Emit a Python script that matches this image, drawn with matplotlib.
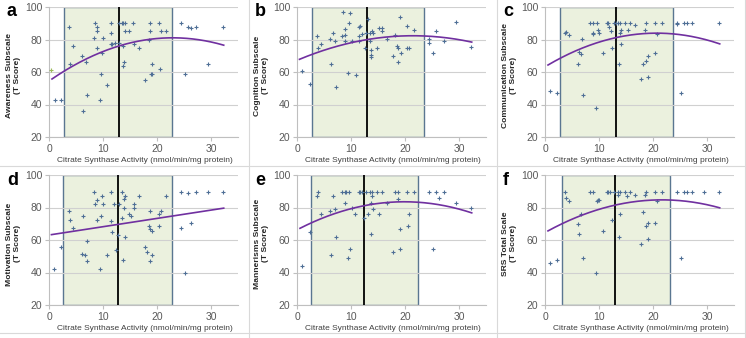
import numpy as np
import matplotlib
matplotlib.use("Agg")
import matplotlib.pyplot as plt
from matplotlib.patches import Rectangle
from matplotlib.lines import Line2D

# ---------------- data ----------------
letters = ["a", "b", "c", "d", "e", "f"]
ylabels = ["Awareness Subscale\n(T Score)", "Cognition Subscale\n(T Score)",
           "Communication Subscale\n(T Score)", "Motivation Subscale\n(T Score)",
           "Mannerisms Subscale\n(T Score)", "SRS Total Scale\n(T Score)"]
xlabel = "Citrate Synthase Activity (nmol/min/mg protein)"
xticks = [0, 10, 20, 30]
yticks = [20, 40, 60, 80, 100]

a_x = [1, 2.2, 3.6, 3.8, 4.4, 6.1, 6.3, 6.8, 7.0, 8.5, 8.3, 8.8, 8.8, 8.8, 9.3, 9.6, 9.8, 10.0,
       10.7, 11.4, 11.4, 11.4, 11.7, 12.1, 12.9, 13.0, 13.4, 13.6, 14.0, 13.6, 13.6, 13.9, 14.0,
       14.8, 15.5, 15.7, 16.7, 17.8, 18.4, 18.6, 18.6, 18.8, 19.1, 19.1, 20.3, 20.5, 20.7, 21.7,
       24.3, 25.2, 25.6, 26.2, 27.2, 29.4, 32.2]
a_y = [43, 43, 88, 65, 76, 70, 36, 66, 46, 90, 81, 88, 85, 75, 43, 59, 72, 81,
       52, 90, 84, 77, 77, 78, 90, 78, 90, 90, 90, 76, 64, 66, 85,
       85, 90, 77, 75, 55, 80, 85, 90, 59, 59, 65, 90, 62, 85, 85,
       90, 59, 88, 87, 88, 65, 88]
a_extra_x = [0.25]
a_extra_y = [61]

b_x = [0.9, 2.3, 3.6, 3.9, 4.4, 6.1, 6.3, 6.7, 7.0, 7.1, 8.5, 8.3, 8.9, 8.9, 8.8, 9.3, 9.6, 9.8,
       10.1, 10.8, 11.4, 11.5, 11.5, 11.6, 12.0, 12.5, 12.8, 13.1, 13.4, 13.5, 13.6, 13.6, 13.7,
       13.9, 14.0, 14.7, 15.2, 15.6, 15.6, 16.7, 17.8, 18.1, 18.5, 18.6, 18.6, 19.0, 19.2, 20.4,
       20.4, 20.7, 21.7, 24.3, 24.3, 25.1, 25.6, 27.2, 29.4, 32.2]
b_y = [60.8, 52.6, 82.3, 74.6, 77, 80.4, 64.7, 84, 79, 50.7, 96.7, 81.9, 86.4, 82.5, 79, 59.6, 90, 96.3,
       79, 58.1, 79, 81.9, 87.6, 88.5, 83.5, 74.6, 84.3, 92.8, 83.7, 79.2, 70.5, 69, 73.6,
       85, 84, 74.6, 87.2, 87.2, 85, 80.6, 70, 83, 76, 75, 66.4, 93.6, 71.5, 88.5,
       74.6, 74.6, 86, 80.2, 78.1, 71.5, 85, 79, 90.5, 75.3]

c_x = [0.9, 2.2, 3.6, 3.8, 4.4, 6.1, 6.3, 6.7, 6.8, 7.0, 8.3, 8.8, 8.8, 8.8, 9.3, 9.6, 9.8, 10.0,
       10.7, 11.4, 11.7, 11.8, 12.1, 12.3, 12.8, 13.1, 13.4, 13.8, 13.6, 13.8, 14.0, 14.0, 14.7,
       15.3, 15.6, 16.6, 17.8, 18.1, 18.4, 18.6, 18.6, 19.0, 19.1, 20.4, 20.4, 20.7, 21.7,
       24.3, 24.4, 25.1, 25.6, 26.2, 27.2, 32.2]
c_y = [48.5, 46.8, 84, 84.5, 83, 64.7, 72.2, 70.9, 80.2, 46, 90, 90, 84, 83.3, 38.1, 90, 86, 84,
       72, 90, 90, 88, 85, 75, 90, 90, 90, 90, 64.7, 84, 77, 86, 90,
       86, 90, 89, 55.9, 64.7, 86, 90, 66.8, 57, 70, 90, 72, 83.5, 90,
       90, 89.5, 46.8, 90, 90, 90, 90]

d_x = [0.9, 2.2, 3.6, 3.8, 4.4, 6.1, 6.2, 6.7, 6.9, 7.0, 8.3, 8.5, 8.8, 8.8, 9.3, 9.6, 9.8, 10.0,
       10.7, 11.4, 11.5, 11.7, 12.0, 12.3, 12.8, 13.0, 13.5, 13.5, 13.6, 13.8, 13.9, 14.0, 14.1,
       14.7, 15.2, 15.6, 15.7, 16.7, 17.8, 18.1, 18.4, 18.6, 18.6, 18.6, 19.0, 19.1, 20.3, 20.4,
       20.7, 21.7, 24.3, 24.3, 25.1, 25.6, 26.2, 27.2, 29.4, 32.2]
d_y = [41.9, 55.7, 77.7, 72.6, 67.6, 51.5, 74.6, 50.7, 59.6, 46.8, 89.7, 81.9, 84.7, 72.6, 41.9, 74.6, 86.8, 81.9,
       50.7, 89.7, 71.5, 64.7, 81.9, 53.8, 62.9, 81.9, 89.7, 73.6, 47.7, 85, 79.8, 61.6, 86.8,
       75.7, 74.6, 81.9, 79.8, 86.8, 55.9, 52.8, 68.7, 66.8, 77.7, 46.8, 50.7, 65.8, 75.7, 68.7,
       77.7, 86.8, 89.7, 67.6, 39.8, 89, 70.7, 89.7, 89.7, 89.7]

e_x = [0.9, 2.3, 3.6, 3.9, 4.4, 6.1, 6.3, 6.7, 6.9, 7.1, 8.3, 8.8, 9.1, 8.8, 9.3, 9.6, 9.8, 10.1,
       10.7, 11.4, 11.7, 12.0, 12.4, 12.8, 13.0, 13.4, 13.8, 13.6, 13.7, 13.8, 14.0, 14.8, 15.2,
       15.6, 16.7, 17.8, 18.1, 18.6, 18.6, 19.0, 19.1, 20.4, 20.5, 20.7, 21.7, 24.3, 25.1, 25.6,
       26.2, 27.2, 29.4, 32.2]
e_y = [43.9, 64.7, 86.8, 89.7, 76, 78.1, 50.7, 86.8, 79, 61.6, 89.7, 89.7, 89.7, 82.9, 49, 89.7, 54.6, 79.8,
       76, 89.7, 89.7, 89.7, 73.6, 89.7, 76, 89.7, 89.7, 63.7, 83, 86.8, 79, 89.7, 76,
       89.7, 83, 52.8, 89.7, 89.7, 85, 54.6, 66.8, 89.7, 68.7, 76, 89.7, 89.7, 54.6, 89.7,
       86, 89.7, 82.9, 79.8]

f_x = [0.9, 2.2, 3.6, 3.8, 4.4, 6.0, 6.2, 6.7, 7.0, 8.3, 8.8, 9.3, 9.6, 9.8, 10.0, 10.7, 11.4, 11.7,
       12.0, 12.3, 12.8, 13.4, 13.4, 13.9, 13.6, 13.9, 14.7, 15.2, 15.6, 16.6, 17.8, 18.1, 18.4,
       18.6, 18.6, 19.0, 19.1, 20.4, 20.4, 20.7, 21.7, 24.3, 25.1, 25.6, 26.2, 27.2, 29.4, 32.2]
f_y = [45.8, 47.8, 89.7, 86, 84, 69.7, 63.7, 75.7, 48.9, 89.7, 89.7, 39.8, 84, 84.7, 84.7, 65.8, 89.7, 89.7,
       89.7, 72.6, 89.7, 88, 89.7, 89.7, 61.6, 76, 89.7, 87.2, 89.7, 88, 57.7, 77, 87.6,
       89.7, 68.7, 60.6, 70.5, 89.7, 70.5, 84, 89.7, 89.7, 48.9, 89.7, 89.7, 89.7, 89.7, 89.7]

xs = [a_x, b_x, c_x, d_x, e_x, f_x]
ys = [a_y, b_y, c_y, d_y, e_y, f_y]

# shaded range (low, high) and median line per panel
range_lo = [2.8, 2.8, 2.8, 2.6, 2.6, 3.0]
range_hi = [22.8, 23.4, 23.6, 22.65, 22.3, 23.0]
median_x = [12.9, 12.95, 13.1, 12.65, 12.35, 12.95]

# trend line anchor readings (x, y); degree = number of anchors - 1
trend_x = [[0.5, 22, 32.3], [0.4, 22, 32.3], [0.5, 20.5, 32.3],
           [0.4, 32.3], [0.5, 20.5, 32.3], [0.5, 21.7, 32.3]]
trend_y = [[55.7, 81.0, 76.5], [67.8, 82.3, 78.4], [64.3, 83.9, 77.3],
           [63.3, 79.6], [67.2, 83.5, 76.7], [65.6, 84.7, 79.8]]

# ---------------- figure ----------------
W, H = 746, 338
fig = plt.figure(figsize=(W / 100, H / 100), dpi=100)
fig.patch.set_facecolor("white")

font_arial = ["Liberation Sans", "DejaVu Sans"]

panel_w = 248
panel_h = 168
ax_left_off = 49.3
ax_w = 189
ax_top_off = 7
ax_h = 130

tick_col = "#595959"
grid_col = "#d0d0d0"

for i in range(6):
    r, c = divmod(i, 3)
    x0 = c * panel_w + ax_left_off
    y0 = r * panel_h + ax_top_off
    ax = fig.add_axes([x0 / W, 1 - (y0 + ax_h) / H, ax_w / W, ax_h / H])
    ax.set_xlim(0, 35)
    ax.set_ylim(20, 100)
    ax.set_xticks(xticks)
    ax.set_yticks(yticks)
    ax.grid(axis="y", color=grid_col, lw=0.8, zorder=0)
    for s in ["top", "right"]:
        ax.spines[s].set_visible(False)
    ax.spines["left"].set_color("#bfbfbf")
    ax.spines["bottom"].set_color("#bfbfbf")
    ax.spines["left"].set_linewidth(0.8)
    ax.spines["bottom"].set_linewidth(0.8)
    ax.tick_params(axis="both", colors="#bfbfbf", length=3, width=0.8,
                   labelcolor=tick_col, labelsize=7.5, pad=2)
    for lab in ax.get_xticklabels() + ax.get_yticklabels():
        lab.set_family(font_arial)

    ax.add_patch(Rectangle((range_lo[i], 20), range_hi[i] - range_lo[i], 80,
                           facecolor="#ebf1de", edgecolor="#5a7691", lw=1.0, zorder=1))
    ax.axvline(median_x[i], color="black", lw=1.3, zorder=3)

    ax.scatter(xs[i], ys[i], marker="+", s=6, color="#4f6f96", linewidths=0.8, zorder=4)
    if i == 0:
        ax.scatter(a_extra_x, a_extra_y, marker="+", s=6, color="#9bbb59",
                   linewidths=0.8, zorder=4)

    deg = len(trend_x[i]) - 1
    coef = np.polyfit(trend_x[i], trend_y[i], deg)
    tx = np.linspace(trend_x[i][0], trend_x[i][-1], 200)
    ax.plot(tx, np.polyval(coef, tx), color="#7030a0", lw=1.2, zorder=5)

    ax.set_xlabel(xlabel, fontsize=6.0, color="#404040", family=font_arial)
    ax.xaxis.set_label_coords((144.5 - ax_left_off) / ax_w, -(160 - ax_top_off - ax_h) / ax_h)
    ax.xaxis.label.set_va("center")
    ax.set_ylabel(ylabels[i], fontsize=6.1, fontweight="bold", color="#262626",
                  family=font_arial, linespacing=1.1)
    ax.yaxis.set_label_coords((13.5 - ax_left_off) / ax_w, 0.47)
    ax.yaxis.label.set_va("center")

    fig.text((c * panel_w + 7) / W, 1 - (r * panel_h + 12) / H, letters[i],
             fontsize=13, fontweight="bold", family=font_arial, va="center", ha="left")

# panel separators
sep_col = "#d9d9d9"
for xp in [248.5, 496.5, 745]:
    fig.add_artist(Line2D([xp / W, xp / W], [0, 1], color=sep_col, lw=0.8))
for yp in [166, 333]:
    fig.add_artist(Line2D([0, 1], [1 - yp / H, 1 - yp / H], color=sep_col, lw=0.8))

fig.savefig("out.png", dpi=100, facecolor="white")
